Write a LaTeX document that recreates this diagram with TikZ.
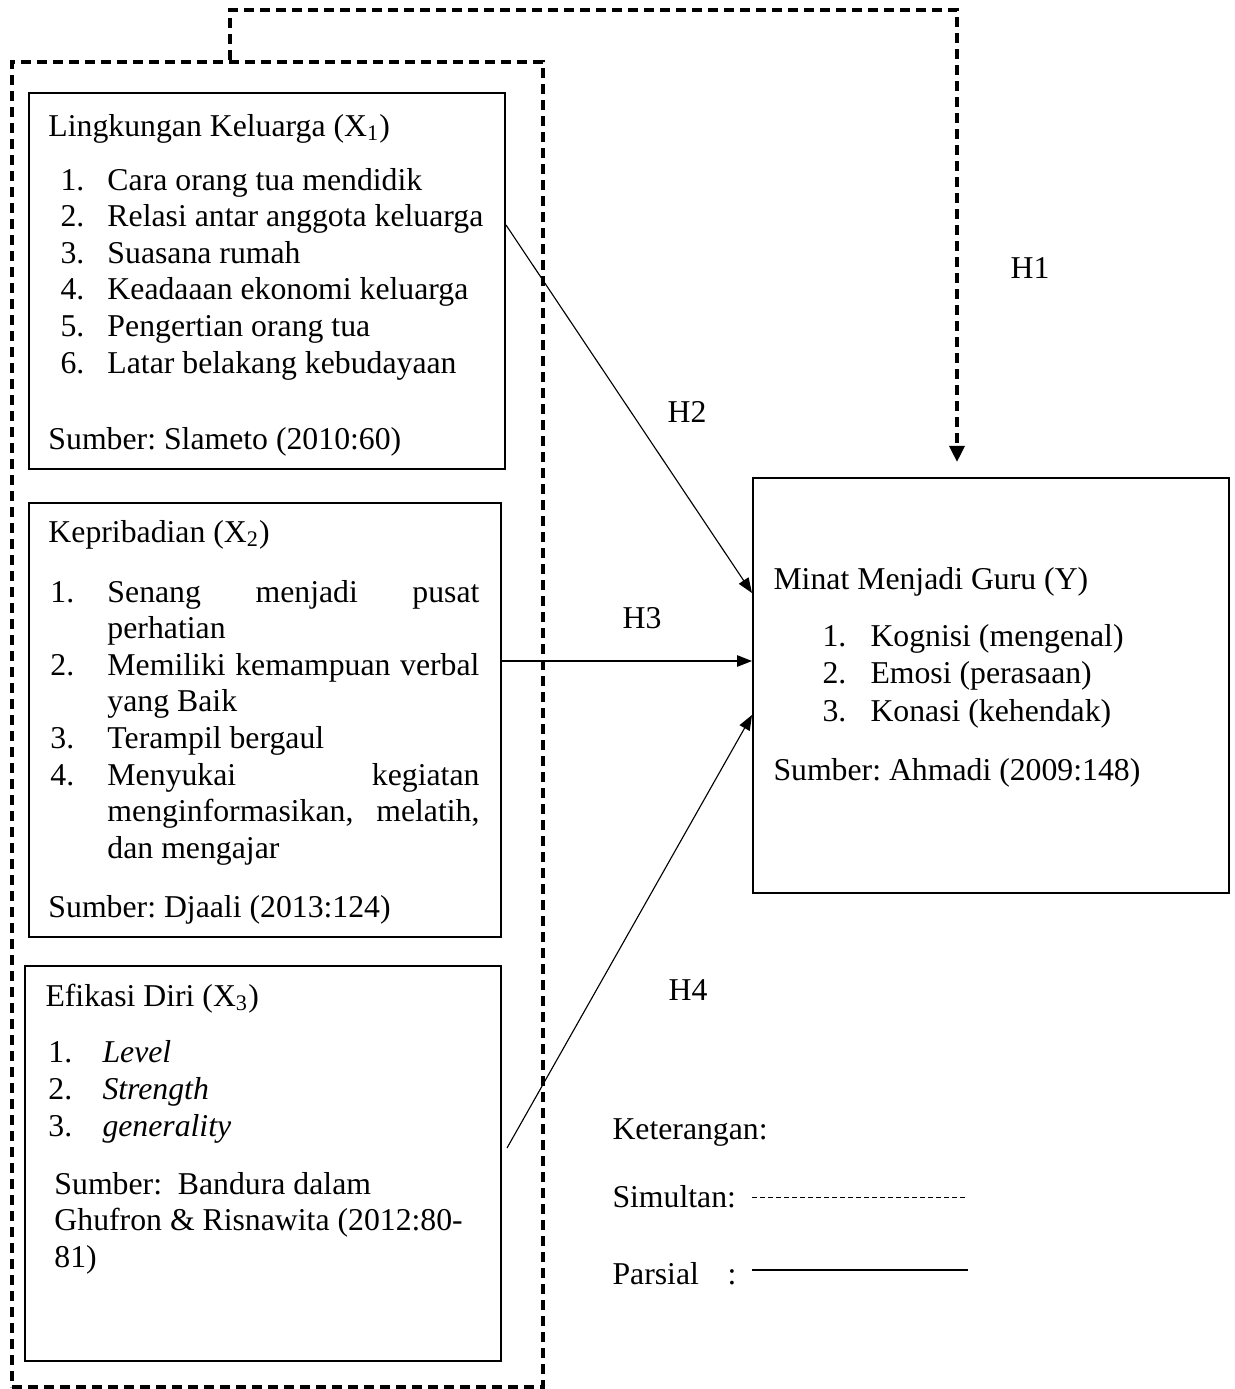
\documentclass[tikz,border=0pt]{standalone}
\usepackage{fontspec}
\setmainfont{Liberation Serif}
\usetikzlibrary{arrows.meta,positioning}
\frenchspacing

\tikzset{
  varbox/.style={draw, line width=0.8pt, anchor=north west, inner sep=0pt},
  grpbox/.style={draw, simline, anchor=north west, inner sep=0pt},
  txt/.style={anchor=base west, inner sep=0pt, font=\fontsize{12.7}{14.64}\selectfont},
  hlabel/.style={inner sep=0pt, font=\fontsize{12.7}{14.64}\selectfont},
  simline/.style={line width=1.5pt, dash pattern=on 4pt off 2.4pt},
  parline/.style={line width=0.45pt, -{Triangle[length=6pt,width=4.6pt]}},
}
\newcommand{\jline}[1]{\makebox[148.8pt][s]{#1}}

\begin{document}
\begin{tikzpicture}[x=0.4pt,y=-0.4pt]
\useasboundingbox (0,0) rectangle (1235,1389);

% outer group and variable boxes
\node[grpbox, minimum width=212.4pt, minimum height=530pt] (grp) at (10,60) {};
\node[varbox, minimum width=190.4pt, minimum height=150.4pt] (x1) at (28,92) {};
\node[varbox, minimum width=188.8pt, minimum height=173.6pt] (x2) at (28,502) {};
\node[varbox, minimum width=190.4pt, minimum height=158pt] (x3) at (24,965) {};
\node[varbox, minimum width=190.4pt, minimum height=166pt] (y) at (752,477) {};

% X1
\node[txt] (x1title) at (48,136) {Lingkungan Keluarga (X\textsubscript{1})};
\foreach \t [count=\i] in {Cara orang tua mendidik, Relasi antar anggota keluarga,
  Suasana rumah, Keadaaan ekonomi keluarga, Pengertian orang tua,
  Latar belakang kebudayaan}{
  \node[txt] (x1n\i) at (60,{190+36.6*(\i-1)}) {\i.};
  \node[txt] (x1t\i) at (107,{190+36.6*(\i-1)}) {\t};
}
\node[txt] (x1src) at (48,449) {Sumber: Slameto (2010:60)};

% X2
\node[txt] (x2title) at (48,542) {Kepribadian (X\textsubscript{2})};
\node[txt] (x2n1) at (50,602) {1.};
\node[txt] (x2t1) at (107,602) {\jline{Senang\hfill menjadi\hfill pusat}};
\node[txt] (x2t1b) at (107,638.6) {perhatian};
\node[txt] (x2n2) at (50,675.2) {2.};
\node[txt] (x2t2) at (107,675.2) {\jline{Memiliki\hfill kemampuan\hfill verbal}};
\node[txt] (x2t2b) at (107,711.8) {yang Baik};
\node[txt] (x2n3) at (50,748.4) {3.};
\node[txt] (x2t3) at (107,748.4) {Terampil bergaul};
\node[txt] (x2n4) at (50,785) {4.};
\node[txt] (x2t4) at (107,785) {\jline{Menyukai\hfill kegiatan}};
\node[txt] (x2t4b) at (107,821.6) {\jline{menginformasikan,\hfill melatih,}};
\node[txt] (x2t4c) at (107,858.2) {dan mengajar};
\node[txt] (x2src) at (48,917) {Sumber: Djaali (2013:124)};

% X3
\node[txt] (x3title) at (45,1006) {Efikasi Diri (X\textsubscript{3})};
\foreach \t [count=\i] in {Level, Strength, generality}{
  \node[txt] (x3n\i) at (48,{1062+37*(\i-1)}) {\i.};
  \node[txt] (x3t\i) at (102,{1062+37*(\i-1)}) {\textit{\t}};
}
\node[txt] (x3src) at (54,1194) {Sumber:\ \ Bandura dalam};
\node[txt] (x3srcb) at (54,1230) {Ghufron \& Risnawita (2012:80-};
\node[txt] (x3srcc) at (54,1267) {81)};

% Y
\node[txt] (ytitle) at (773,589) {Minat Menjadi Guru (Y)};
\foreach \t [count=\i] in {Kognisi (mengenal), Emosi (perasaan), Konasi (kehendak)}{
  \node[txt] (yn\i) at (822,{646+37.5*(\i-1)}) {\i.};
  \node[txt] (yt\i) at (870,{646+37.5*(\i-1)}) {\t};
}
\node[txt] (ysrc) at (773,780) {Sumber: Ahmadi (2009:148)};

% connectors
\path (grp.north west) ++(220,0) coordinate (g1);
\path (y.north west) ++(205,-15) coordinate (h1e);
\draw[simline, -{Triangle[length=6.5pt,width=6pt]}] (g1) -- ++(0,-50) -| (h1e);

\path (x1.north east) ++(0,133) coordinate (h2s);
\path (y.north west) ++(0,116) coordinate (h2e);
\draw[parline] (h2s) -- (h2e);

\path (x2.north east) ++(0,159) coordinate (h3s);
\path (y.north west) ++(0,184) coordinate (h3e);
\draw[parline] (h3s) -- (h3e);

\path (x3.north east) ++(5,183) coordinate (h4s);
\path (y.north west) ++(0,238) coordinate (h4e);
\draw[parline] (h4s) -- (h4e);

\node[hlabel] (h1) at (1030,268) {H1};
\node[hlabel] (h2) at (687,412) {H2};
\node[hlabel] (h3) at (642,618) {H3};
\node[hlabel] (h4) at (688,990) {H4};

% legend
\node[txt] (ket) at (612,1139) {Keterangan:};
\node[txt] (sim) at (612,1207) {Simultan:};
\node[txt] (par) at (612,1284) {Parsial};
\node[txt] (parc) at (727,1284) {:};
\coordinate (sima) at (752,1197);
\coordinate (simb) at (968,1197);
\coordinate (para) at (752,1270);
\coordinate (parb) at (968,1270);
\draw[line width=0.4pt, dash pattern=on 2pt off 1.2pt] (sima) -- (simb);
\draw[line width=0.5pt] (para) -- (parb);
\end{tikzpicture}
\end{document}
